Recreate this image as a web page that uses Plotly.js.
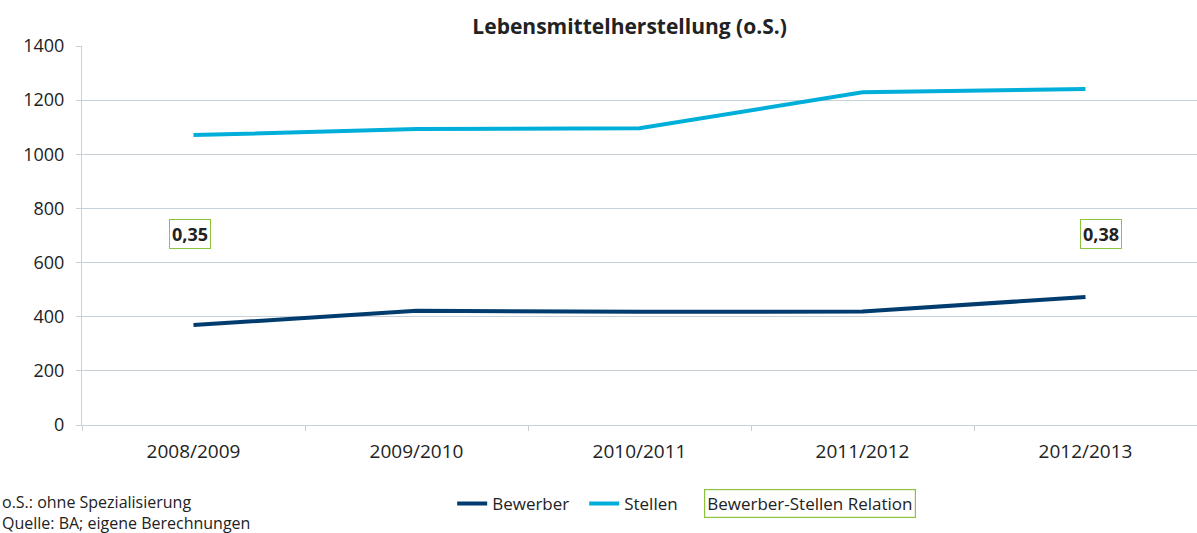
<!DOCTYPE html>
<html>
<head>
<meta charset="utf-8">
<script src="https://cdn.plot.ly/plotly-3.0.1.min.js"></script>
<style>html,body{margin:0;padding:0;background:#fff;}#chart{width:1197px;height:533px;}</style>
</head>
<body>
<div id="chart"></div>
<script>
const categories = ["2008/2009", "2009/2010", "2010/2011", "2011/2012", "2012/2013"];
const bewerber = [369, 422, 418, 419, 473];
const stellen = [1071, 1093, 1096, 1229, 1241];
const relationLabels = [{cat: "2008/2009", text: "0,35"}, {cat: "2012/2013", text: "0,38"}];
const relationY = 705;
const yTicks = [0, 200, 400, 600, 800, 1000, 1200, 1400];

const FONT = "Open Sans, Noto Sans, sans-serif";
const TXT = "#222222";
const GREEN = "#8cc43f";

const traces = [
  {x: categories, y: bewerber, name: "Bewerber", type: "scatter", mode: "lines",
   line: {color: "#003d6e", width: 4}},
  {x: categories, y: stellen, name: "Stellen", type: "scatter", mode: "lines",
   line: {color: "#00afd9", width: 4}}
];

const shifts = [-4, 15];
const annotations = relationLabels.map((r, i) => ({
  x: r.cat, y: relationY, xref: "x", yref: "y", text: "<b>" + r.text + "</b>",
  showarrow: false, font: {family: FONT, size: 18, color: TXT}, xshift: shifts[i],
  bordercolor: GREEN, borderwidth: 1, borderpad: 2, bgcolor: "#fff"
}));
annotations.push({
  xref: "paper", yref: "paper", x: 0.653, y: -0.208, text: "Bewerber-Stellen Relation",
  showarrow: false, font: {family: FONT, size: 17, color: TXT},
  bordercolor: GREEN, borderwidth: 1.2, borderpad: 2, xanchor: "center", yanchor: "middle"
});
annotations.push({
  xref: "paper", yref: "paper", x: -0.0735, y: -0.169, xanchor: "left", yanchor: "top",
  align: "left", text: "o.S.: ohne Spezialisierung<br>Quelle: BA; eigene Berechnungen",
  showarrow: false, font: {family: FONT, size: 16, color: TXT}
});

const layout = {
  width: 1197, height: 533,
  margin: {l: 82, r: 0, t: 46, b: 108},
  paper_bgcolor: "#fff", plot_bgcolor: "#fff",
  title: {text: "<b>Lebensmittelherstellung (o.S.)</b>", x: 0.526, xanchor: "center", y: 0.95, yanchor: "middle",
          font: {family: FONT, size: 21, color: TXT}},
  showlegend: true,
  legend: {orientation: "h", x: 0.332, xanchor: "left", y: -0.208, yanchor: "middle",
           font: {family: FONT, size: 17, color: TXT}, itemwidth: 30, tracegroupgap: 0,
           entrywidth: 87, entrywidthmode: "pixels", bgcolor: "rgba(0,0,0,0)", borderwidth: 0},
  xaxis: {type: "category", range: [-0.5, 4.5], showgrid: false, showline: true,
          linecolor: "#c8d0d8", linewidth: 1, ticks: "outside", tickson: "boundaries",
          ticklen: 5, tickcolor: "#c8d0d8", tickfont: {family: FONT, size: 19, color: TXT},
          fixedrange: true, zeroline: false, ticklabelstandoff: 9},
  yaxis: {range: [0, 1400], tickvals: yTicks, showgrid: true, gridcolor: "#c8d0d8", gridwidth: 1,
          showline: true, linecolor: "#c8d0d8", ticks: "outside", ticklen: 5, tickcolor: "#c8d0d8",
          tickfont: {family: FONT, size: 18, color: TXT}, zeroline: false, ticklabelstandoff: 8},
  annotations: annotations
};

Plotly.newPlot("chart", traces, layout, {displayModeBar: false, staticPlot: true});
</script>
</body>
</html>
